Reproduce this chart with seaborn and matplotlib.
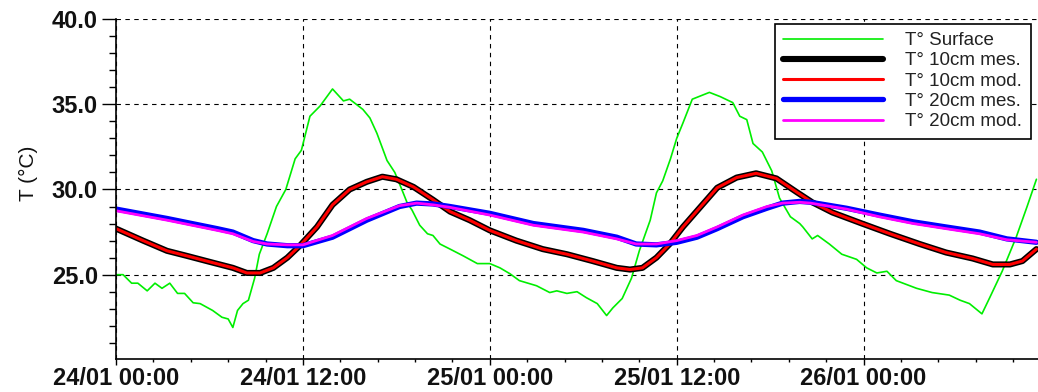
import numpy as np
import pandas as pd
import matplotlib
matplotlib.use("Agg")
import matplotlib.pyplot as plt
import matplotlib.dates as mdates
from matplotlib.ticker import MultipleLocator, FormatStrFormatter
import seaborn as sns

# Hours since 24/01 00:00 and temperatures (°C)
surf_h = [0, 0.45, 1.0, 1.4, 2.0, 2.5, 2.95, 3.45, 3.95, 4.4, 4.95, 5.4, 6.2, 6.8, 7.2, 7.5,
          7.8, 8.15, 8.5, 8.9, 9.2, 9.7, 10.3, 10.9, 11.5, 11.9, 12.45, 13.1, 13.9, 14.6, 15.0,
          15.85, 16.3, 16.75, 17.4, 17.9, 18.35, 18.7, 19.0, 19.5, 20.0, 20.35, 20.8, 21.45,
          22.3, 23.2, 24.0, 24.65, 25.3, 25.9, 27.0, 27.85, 28.3, 28.95, 29.6, 30.2, 30.9, 31.5,
          31.9, 32.5, 33.1, 33.6, 34.3, 34.7, 35.1, 35.6, 36.0, 36.4, 37.0, 38.1, 38.8, 39.6,
          40.05, 40.5, 40.9, 41.5, 42.1, 42.6, 43.3, 43.9, 44.1, 44.7, 45.05, 45.8, 46.6, 47.55,
          48.2, 48.85, 49.5, 50.1, 51.4, 52.4, 53.5, 54.2, 54.8, 55.6, 56.1, 56.9, 57.8, 58.5, 59.1]
surf_t = [25.0, 25.0, 24.5, 24.5, 24.05, 24.5, 24.2, 24.5, 23.9, 23.9, 23.35, 23.3, 22.9, 22.5, 22.4, 21.9,
          22.9, 23.3, 23.5, 24.8, 26.2, 27.4, 29.0, 30.0, 31.8, 32.3, 34.3, 34.9, 35.9, 35.2, 35.3,
          34.7, 34.2, 33.3, 31.7, 31.0, 30.0, 29.2, 28.8, 27.9, 27.4, 27.3, 26.8, 26.5,
          26.1, 25.65, 25.65, 25.4, 25.05, 24.65, 24.35, 23.95, 24.05, 23.9, 24.0, 23.65, 23.3, 22.6,
          23.05, 23.6, 24.8, 26.4, 28.2, 29.8, 30.5, 31.8, 33.0, 33.9, 35.3, 35.7, 35.45, 35.1,
          34.3, 34.1, 32.7, 32.2, 31.1, 29.5, 28.4, 28.0, 27.8, 27.1, 27.3, 26.8, 26.2, 25.9,
          25.4, 25.1, 25.2, 24.65, 24.2, 23.95, 23.8, 23.5, 23.3, 22.7, 23.65, 25.2, 27.2, 29.0, 30.6]

t10_h = [0, 1.73, 3.27, 4.56, 6.23, 7.5, 8.4, 9.25, 10.1, 11.0, 11.8, 12.9, 13.9, 15.0, 16.1,
         17.1, 18.0, 19.1, 20.35, 21.45, 22.7, 24.0, 25.7, 27.4, 28.95, 30.6, 32.15, 33.0, 33.8,
         34.7, 35.55, 36.4, 37.5, 38.6, 39.85, 41.1, 42.4, 43.7, 44.7, 46.0, 47.9, 49.7, 51.6,
         53.3, 55.0, 56.3, 57.4, 58.2, 59.1]
t10_mes = [27.7, 27.0, 26.4, 26.1, 25.7, 25.4, 25.1, 25.1, 25.4, 26.0, 26.7, 27.8, 29.1, 30.0, 30.45,
           30.75, 30.6, 30.15, 29.4, 28.7, 28.2, 27.6, 27.0, 26.5, 26.2, 25.8, 25.4, 25.3, 25.4,
           26.0, 26.8, 27.8, 28.95, 30.1, 30.7, 30.95, 30.65, 29.85, 29.25, 28.65, 28.0, 27.4, 26.8,
           26.3, 25.95, 25.6, 25.6, 25.8, 26.5]
t10_mod = [27.7, 27.0, 26.4, 26.1, 25.7, 25.4, 25.1, 25.1, 25.4, 26.0, 26.7, 27.8, 29.1, 30.0, 30.45,
           30.75, 30.6, 30.15, 29.4, 28.7, 28.2, 27.6, 27.0, 26.5, 26.2, 25.8, 25.4, 25.3, 25.4,
           26.0, 26.8, 27.8, 28.95, 30.1, 30.7, 30.95, 30.65, 29.85, 29.25, 28.65, 28.0, 27.4, 26.8,
           26.3, 25.95, 25.6, 25.6, 25.8, 26.5]

t20_h = [0, 3.27, 6.5, 7.5, 8.8, 9.7, 11.0, 12.0, 13.9, 16.1, 18.2, 19.3, 20.35, 21.45, 24.0,
         26.8, 30.0, 32.15, 33.4, 34.7, 36.0, 37.3, 38.6, 40.25, 41.8, 42.8, 43.9, 44.6, 46.9,
         49.0, 51.2, 53.3, 55.45, 57.2, 59.1]
t20_mes = [28.85, 28.3, 27.7, 27.5, 27.0, 26.8, 26.7, 26.7, 27.2, 28.2, 29.0, 29.2, 29.15, 29.0, 28.6,
           28.0, 27.6, 27.2, 26.8, 26.75, 26.9, 27.2, 27.7, 28.4, 28.9, 29.2, 29.3, 29.25, 28.9,
           28.5, 28.1, 27.8, 27.5, 27.1, 26.9]
t20_mod = [28.75, 28.2, 27.6, 27.4, 26.95, 26.8, 26.75, 26.75, 27.3, 28.3, 29.05, 29.2, 29.1, 28.95, 28.5,
           27.9, 27.5, 27.1, 26.8, 26.8, 27.0, 27.3, 27.8, 28.5, 29.0, 29.2, 29.25, 29.2, 28.85,
           28.4, 28.0, 27.7, 27.4, 27.05, 26.9]

start = pd.Timestamp("2024-01-24 00:00")


def frame(hours, temps):
    return pd.DataFrame({"time": start + pd.to_timedelta(hours, unit="h"), "T": temps})


sns.set_theme(style="white")
plt.rcParams["font.family"] = ["Liberation Sans", "DejaVu Sans"]

fig = plt.figure(figsize=(10.38, 3.92), dpi=100)
ax = fig.add_axes([0.1118, 0.0842, 0.8882, 0.867])

series = [
    (frame(surf_h, surf_t), "T° Surface", "#00ee00", 1.2),
    (frame(t10_h, t10_mes), "T° 10cm mes.", "black", 4.4),
    (frame(t10_h, t10_mod), "T° 10cm mod.", "#ff0000", 2.2),
    (frame(t20_h, t20_mes), "T° 20cm mes.", "#0000ff", 3.8),
    (frame(t20_h, t20_mod), "T° 20cm mod.", "#ff00ff", 2.0),
]
for df, label, color, lw in series:
    sns.lineplot(data=df, x="time", y="T", ax=ax, color=color, linewidth=lw,
                 label=label, estimator=None, sort=False)

ax.set_xlim(start, start + pd.Timedelta(hours=59.2))
ax.set_ylim(20.05, 40)

ax.xaxis.set_major_locator(mdates.HourLocator(byhour=[0, 12]))
ax.xaxis.set_major_formatter(mdates.DateFormatter("%d/%m %H:%M"))
ax.xaxis.set_minor_locator(MultipleLocator(0.1))
ax.yaxis.set_major_locator(MultipleLocator(5))
ax.yaxis.set_minor_locator(MultipleLocator(1))
ax.yaxis.set_major_formatter(FormatStrFormatter("%.1f"))

ax.tick_params(axis="y", which="major", length=10, width=1, color="black",
               labelsize=17, pad=3, left=True)
ax.tick_params(axis="y", which="minor", length=5, width=1, color="black", left=True)
ax.tick_params(axis="x", which="major", length=4, width=1, color="black",
               labelsize=17, pad=2, bottom=True)
ax.tick_params(axis="x", which="minor", length=2.5, width=1, color="black", bottom=True)
for lab in ax.get_xticklabels() + ax.get_yticklabels():
    lab.set_color("#111111")
    lab.set_fontweight("bold")

ax.grid(True, which="major", color="black", linestyle=(0, (4, 4)), linewidth=0.8)
for side in ("top", "right"):
    ax.spines[side].set_visible(False)
for side in ("left", "bottom"):
    ax.spines[side].set_color("black")
    ax.spines[side].set_linewidth(1.2)

ax.set_xlabel("")
ax.set_ylabel("T (°C)", fontsize=15, color="#111111")
ax.yaxis.set_label_coords(-0.085, 0.547)

leg = ax.legend(loc="upper right", bbox_to_anchor=(0.992, 0.987), borderaxespad=0,
                fontsize=13.5, handlelength=5.3, handletextpad=1.2, labelspacing=0.17,
                frameon=True, fancybox=False, borderpad=0.45)
leg.get_frame().set_edgecolor("black")
leg.get_frame().set_linewidth(1.2)
leg.get_frame().set_alpha(1)
for txt in leg.get_texts():
    txt.set_color("#222222")

fig.savefig("out.png", dpi=100, facecolor="white")
